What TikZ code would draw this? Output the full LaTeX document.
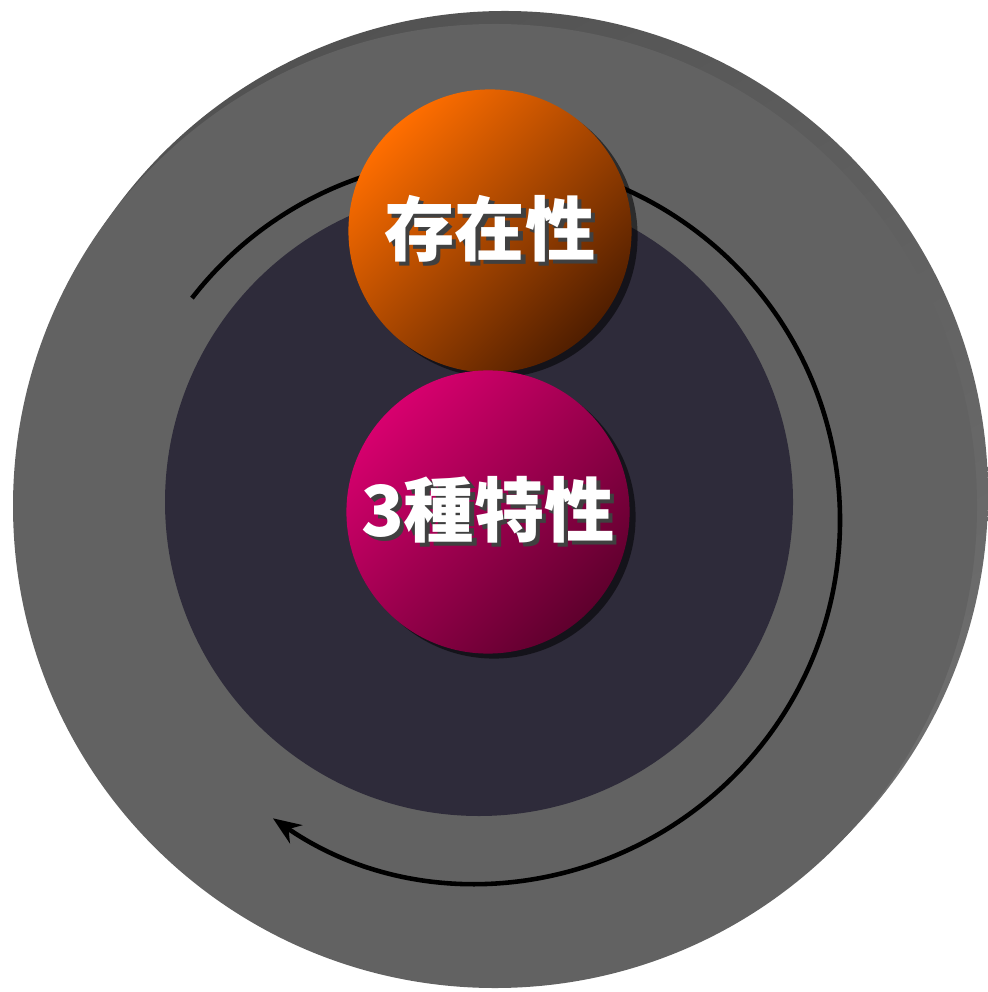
\documentclass[tikz,border=0pt]{standalone}
\usepackage{fontspec}
\newfontfamily\cjk{Noto Sans CJK TC}
\usepackage{tikz}
\usetikzlibrary{arrows.meta,shadows}
\definecolor{rimdark}{RGB}{82,82,82}
\definecolor{rimlight}{RGB}{112,112,112}
\definecolor{facecolor}{RGB}{98,98,98}
\definecolor{corecolor}{RGB}{46,43,58}
\definecolor{orangeA}{RGB}{255,110,0}
\definecolor{orangeB}{RGB}{80,30,0}
\definecolor{pinkA}{RGB}{215,0,110}
\definecolor{pinkB}{RGB}{95,0,45}
\newcommand{\shtext}[1]{\makebox[0pt][l]{\hspace{1.2pt}\raisebox{-1.2pt}{\color{black!75}#1}}#1}

\begin{document}
\begin{tikzpicture}[
    x=0.01cm, y=0.01cm,
    ball/.style={circle, minimum size=2.83cm, inner sep=0pt, text=white,
        font=\cjk\bfseries\fontsize{20}{24}\selectfont,
        drop shadow={shadow xshift=0.06cm, shadow yshift=-0.05cm, opacity=0.55, fill=black}},
    orangeball/.style={ball, top color=orangeA, bottom color=orangeB, shading angle=45},
    pinkball/.style={ball, top color=pinkA, bottom color=pinkB, shading angle=45},
    cycle/.style={line width=1.3pt, -{Stealth[length=0.28cm, width=0.22cm]}}
]
\useasboundingbox (0,0) rectangle (987,-992);

% Outer disc
\shade[left color=rimdark, right color=rimlight, shading angle=30] (505,-494) circle (483);
\fill[facecolor] (495,-506) circle (482);

% Inner core
\fill[corecolor] (479,-502) circle (314);

% Cycle arrow
\draw[cycle] (478,-520) ++(142.2:362) arc[start angle=142.2, end angle=-124.5, radius=362];

% Spheres
\node[orangeball] (exist) at (490,-231) {\shtext{存在性}};
\node[pinkball] (traits) at (488,-512) {\shtext{3種特性}};

\end{tikzpicture}
\end{document}
